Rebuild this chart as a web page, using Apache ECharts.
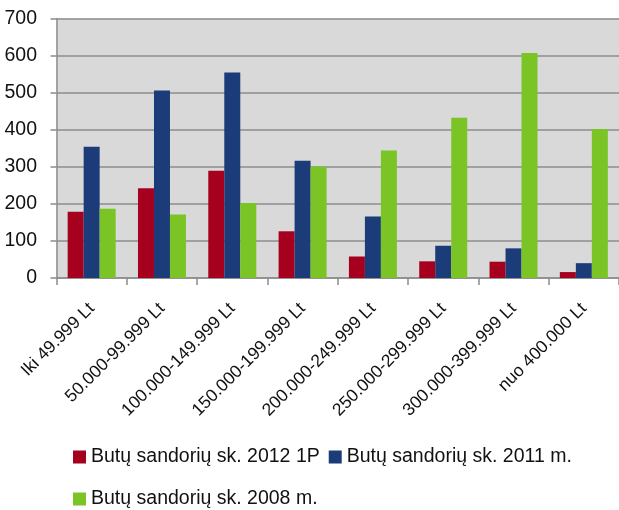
<!DOCTYPE html>
<html>
<head>
<meta charset="utf-8">
<title>Butų sandoriai</title>
<script src="https://cdn.jsdelivr.net/npm/echarts@6/dist/echarts.min.js"></script>
<style>
    html, body { margin: 0; padding: 0; background: #fff; }
    #chart { width: 619px; height: 510px; }
</style>
</head>
<body>
<div id="chart"></div>
<script>
// kainų intervalai
var categories = ['Iki 49.999 Lt', '50.000-99.999 Lt', '100.000-149.999 Lt', '150.000-199.999 Lt',
    '200.000-249.999 Lt', '250.000-299.999 Lt', '300.000-399.999 Lt', 'nuo 400.000 Lt'];

var seriesNames = ['Butų sandorių sk. 2012 1P', 'Butų sandorių sk. 2011 m.', 'Butų sandorių sk. 2008 m.'];

// reikšmės nuskaitytos nuo paveikslo
var data2012 = [179, 242, 289, 126, 58, 45, 44, 16];
var data2011 = [354, 506, 554, 316, 166, 87, 80, 40];
var data2008 = [187, 171, 202, 301, 344, 432, 607, 402];

var yTicks = [0, 100, 200, 300, 400, 500, 600, 700];

var fontName = '"Liberation Sans", Arial, sans-serif';
var gridColor = '#8c8c8c';

var myChart = echarts.init(document.getElementById('chart'));

var legendText = { fontFamily: fontName, fontSize: 19.5, color: '#111' };

var option = {
    animation: false,
    color: ['#a5001e', '#1b3c78', '#7bc425'],
    grid: {
        left: 56.5,
        right: 0,
        top: 18.5,
        bottom: 232,
        show: true,
        backgroundColor: '#d9d9d9',
        borderWidth: 0
    },
    // legenda dviem eilutėmis
    legend: [{
        data: [seriesNames[0], seriesNames[1]],
        left: 73,
        top: 447,
        width: 560,
        padding: 0,
        icon: 'rect',
        itemWidth: 13,
        itemHeight: 13,
        itemGap: 9,
        textStyle: legendText
    }, {
        data: [seriesNames[2]],
        left: 73,
        top: 489,
        width: 560,
        padding: 0,
        icon: 'rect',
        itemWidth: 13,
        itemHeight: 13,
        textStyle: legendText
    }],
    xAxis: {
        type: 'category',
        data: categories,
        axisLine: { lineStyle: { color: gridColor, width: 1.5 } },
        axisTick: { show: true, length: 7, lineStyle: { color: gridColor, width: 1.5 } },
        axisLabel: {
            interval: 0,
            rotate: 45,
            margin: 28,
            fontFamily: fontName,
            fontSize: 17.5,
            color: '#111'
        }
    },
    yAxis: {
        type: 'value',
        min: yTicks[0],
        max: yTicks[yTicks.length - 1],
        interval: 100,
        axisLine: { show: true, lineStyle: { color: gridColor, width: 1.5 } },
        axisTick: { show: true, length: 6, lineStyle: { color: gridColor, width: 1.5 } },
        splitLine: { lineStyle: { color: gridColor, width: 1.5 } },
        axisLabel: {
            margin: 19.5,
            fontFamily: fontName,
            fontSize: 19.5,
            color: '#111'
        }
    },
    series: [{
        name: seriesNames[0],
        type: 'bar',
        barWidth: 16,
        barGap: '0%',
        data: data2012
    }, {
        name: seriesNames[1],
        type: 'bar',
        barWidth: 16,
        barGap: '0%',
        data: data2011
    }, {
        name: seriesNames[2],
        type: 'bar',
        barWidth: 16,
        barGap: '0%',
        data: data2008
    }]
};

myChart.setOption(option);
</script>
</body>
</html>
